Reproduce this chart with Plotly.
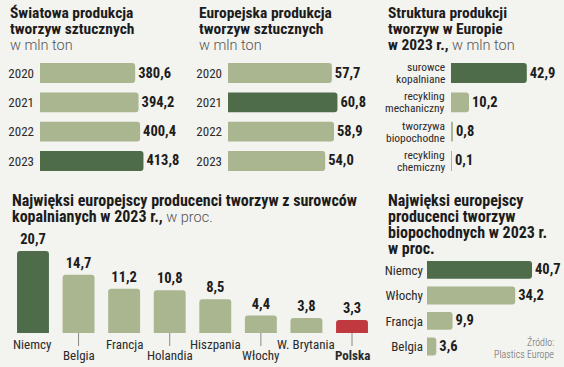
import plotly.graph_objects as go

W, H = 564, 367

# ---------------- data ----------------
world_years = ["2020", "2021", "2022", "2023"]
world_values = [380.6, 394.2, 400.4, 413.8]

europe_years = ["2020", "2021", "2022", "2023"]
europe_values = [57.7, 60.8, 58.9, 54.0]

structure_labels = ["surowce<br>kopalniane", "recykling<br>mechaniczny",
                    "tworzywa<br>biopochodne", "recykling<br>chemiczny"]
structure_values = [42.9, 10.2, 0.8, 0.1]

fossil_countries = ["Niemcy", "Belgia", "Francja", "Holandia",
                    "Hiszpania", "Włochy", "W. Brytania", "Polska"]
fossil_values = [20.7, 14.7, 11.2, 10.8, 8.5, 4.4, 3.8, 3.3]

bio_countries = ["Niemcy", "Włochy", "Francja", "Belgia"]
bio_values = [40.7, 34.2, 9.9, 3.6]

# ---------------- style ----------------
BG = "#f3f3ef"
LIGHT = "#a9b690"
DARK = "#4e6b4a"
RED = "#c0393e"
INK = "#1c1c1c"
GREY = "#555555"
TITLE_FONT = "Roboto Condensed"
SUB_FONT = "Roboto"
NUM_FONT = "Roboto Condensed"
LABEL_FONT = "Roboto Condensed"
LABEL_COLOR = "#2a2a2a"


def px(x):
    return x / W


def py(y):
    return 1 - y / H


fig = go.Figure()


def hbar(values, cats, colors, ax, width):
    fig.add_trace(go.Bar(
        x=values, y=cats, orientation="h", width=width,
        marker=dict(color=colors, line=dict(width=0)),
        text=values, texttemplate="%{x:.1f}", textposition="outside",
        constraintext="none", cliponaxis=False,
        textfont=dict(family=NUM_FONT, size=14.5, color=INK, weight="bold"),
        xaxis="x" + ax, yaxis="y" + ax, showlegend=False, hoverinfo="skip",
    ))


hbar(world_values, world_years, [DARK if y == "2023" else LIGHT for y in world_years], "", 0.68)
hbar(europe_values, europe_years, [DARK if y == "2021" else LIGHT for y in europe_years], "2", 0.68)
hbar(structure_values, structure_labels,
     [DARK if v == max(structure_values) else LIGHT for v in structure_values], "3", 0.68)
hbar(bio_values, bio_countries, [DARK if c == "Niemcy" else LIGHT for c in bio_countries], "5", 0.70)

fossil_colors = [DARK if c == "Niemcy" else (RED if c == "Polska" else LIGHT) for c in fossil_countries]
fig.add_trace(go.Bar(
    x=fossil_countries, y=fossil_values, width=0.70,
    marker=dict(color=fossil_colors, line=dict(width=0)),
    text=fossil_values, texttemplate="%{y:.1f}", textposition="outside",
    constraintext="none", cliponaxis=False,
    textfont=dict(family=NUM_FONT, size=14.5, color=INK, weight="bold"),
    xaxis="x4", yaxis="y4", showlegend=False, hoverinfo="skip",
))

# ---------------- axes ----------------
top_dom = [py(175.6), py(58.4)]
bio_dom = [py(359.2), py(257.2)]


def xa(dom, rng, anchor):
    return dict(domain=dom, range=rng, anchor=anchor, showgrid=False, zeroline=False,
                showline=False, showticklabels=False, ticks="")


def ya(dom, n, anchor, show=True, standoff=4, size=13):
    return dict(domain=dom, type="category", range=[n - 0.5, -0.5], anchor=anchor,
                showgrid=False, zeroline=False, showline=False, ticks="",
                showticklabels=show, ticklabelstandoff=standoff,
                tickfont=dict(family=LABEL_FONT, size=size, color=LABEL_COLOR))


fig.update_layout(
    xaxis=xa([px(40), px(165)], [0, 500], "y"),
    yaxis=ya(top_dom, 4, "x", standoff=5),
    xaxis2=xa([px(228), px(354)], [0, 70], "y2"),
    yaxis2=ya(top_dom, 4, "x2", standoff=5),
    xaxis3=xa([px(451), px(557)], [0, 60], "y3"),
    yaxis3=ya(top_dom, 4, "x3", show=False),
    xaxis4=dict(domain=[px(10.2), px(374.8)], type="category", range=[-0.5, 7.5], anchor="y4",
                showgrid=False, zeroline=False, showline=False, showticklabels=False, ticks=""),
    yaxis4=dict(domain=[py(333), py(234)], range=[0, 25], anchor="x4", showgrid=False,
                zeroline=False, showline=False, showticklabels=False, ticks=""),
    xaxis5=xa([px(427), px(556)], [0, 50], "y5"),
    yaxis5=ya(bio_dom, 4, "x5", standoff=3, size=13),
)

ann = []


def text(x, y, s, size=15.5, weight="bold", color=INK, xanchor="left", family=TITLE_FONT):
    ann.append(dict(x=px(x), y=py(y), xref="paper", yref="paper", text=s,
                    showarrow=False, xanchor=xanchor, yanchor="middle",
                    font=dict(family=family, size=size, color=color, weight=weight)))


LIGHTSPAN = ('<span style="font-family:Roboto;font-weight:300;font-size:14.5px;color:%s">%%s</span>'
             % GREY)

# titles
text(8, 13, "Światowa produkcja")
text(8, 29, "tworzyw sztucznych")
text(8, 45, "w mln ton", size=14.5, weight=300, color=GREY, family=SUB_FONT)

text(197, 13, "Europejska produkcja")
text(197, 29, "tworzyw sztucznych")
text(197, 45, "w mln ton", size=14.5, weight=300, color=GREY, family=SUB_FONT)

text(386, 13, "Struktura produkcji")
text(386, 29, "tworzyw w Europie")
text(386, 45, "w 2023 r.," + (LIGHTSPAN % " w mln ton"))

text(10, 200, "Najwięksi europejscy producenci tworzyw z surowców", size=16)
text(10, 216, "kopalnianych w 2023 r.," + (LIGHTSPAN % " w proc."), size=16)

text(386, 200, "Najwięksi europejscy", size=16)
text(386, 216, "producenci tworzyw", size=16)
text(386, 232, "biopochodnych w 2023 r.", size=16)
text(386, 248, "w proc.", size=16)

# source
text(556, 342, "Źródło:", size=10, weight=300, color="#666", xanchor="right")
text(556, 354, "Plastics Europe", size=10, weight=300, color="#666", xanchor="right")

# structure labels (two lines each, tight leading)
for cat in structure_labels:
    lines = cat.split("<br>")
    for i, ln in enumerate(lines):
        ann.append(dict(x=0, y=cat, xref="x3", yref="y3", text=ln, showarrow=False,
                        xanchor="right", yanchor="middle", xshift=-4,
                        yshift=(6 - 12 * i),
                        font=dict(family=LABEL_FONT, size=11.5, color=LABEL_COLOR)))

# fossil category labels, alternating with leader lines
for i, c in enumerate(fossil_countries):
    bold = c == "Polska"
    f = dict(family=LABEL_FONT, size=13, color=LABEL_COLOR, weight="bold" if bold else "normal")
    if i % 2 == 0:
        ann.append(dict(x=c, y=0, xref="x4", yref="y4", text=c, showarrow=False,
                        xanchor="center", yanchor="top", yshift=-2, font=f))
    else:
        ann.append(dict(x=c, y=0, xref="x4", yref="y4", text=c, showarrow=True,
                        ax=0, ay=22, arrowhead=0, arrowwidth=1, arrowcolor="#888",
                        standoff=0, font=f))

fig.update_layout(
    annotations=ann,
    width=W, height=H, margin=dict(l=0, r=0, t=0, b=0),
    paper_bgcolor=BG, plot_bgcolor=BG,
    separators=", ", barcornerradius=3, showlegend=False,
)

fig.write_html("out.html", config={"displayModeBar": False},
               post_script="document.body.style.margin='0';")
